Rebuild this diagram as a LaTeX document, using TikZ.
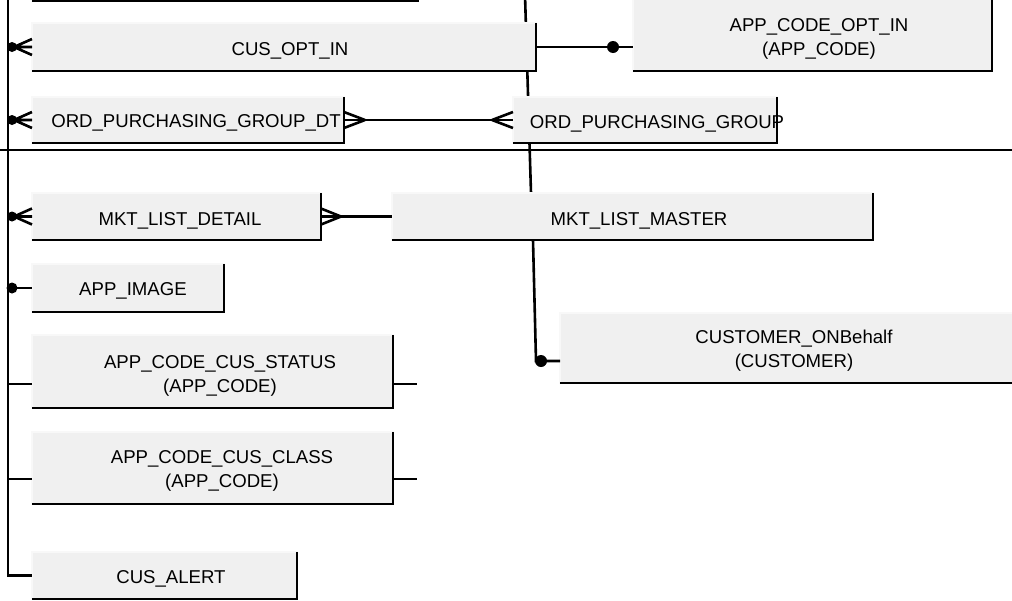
\documentclass[tikz,border=0pt]{standalone}
\usepackage{fontspec}
\setmainfont{Liberation Sans}
\usetikzlibrary{backgrounds}

\definecolor{boxfill}{RGB}{240,240,240}
\definecolor{boxline}{RGB}{248,248,248}

\tikzset{
  entity/.style={rectangle, fill=boxfill, draw=boxline, line width=1.5pt, inner sep=0pt, outer sep=0pt},
  etext/.style={anchor=base, align=center, inner sep=0pt, font=\fontsize{18.6}{24}\selectfont},
  rim/.style={line width=2.8pt, black},
  link/.style={line width=2.6pt, black},
}

\begin{document}
\begin{tikzpicture}[x=1pt, y=-1pt]

\useasboundingbox (0,0) rectangle (1012,600);

\coordinate (spinetop) at (8,-5);
\coordinate (ruleleft) at (0,150);
\coordinate (ruleright) at (1012,150);
\coordinate (mastertop) at (525,-5);

% entities
\node[entity, minimum width=386, minimum height=41] (oldtop) at (225,-19.5) {};
\node[entity, minimum width=504, minimum height=48] (cusoptin) at (284,47) {};
\node[entity, minimum width=312, minimum height=46] (ordpgdt) at (188,120) {};
\node[entity, minimum width=359, minimum height=73] (optincode) at (812.5,34.5) {};
\node[entity, minimum width=264, minimum height=46] (ordpg) at (645,120) {};
\node[entity, minimum width=289, minimum height=47] (mktdetail) at (176.5,216.5) {};
\node[entity, minimum width=481, minimum height=47] (mktmaster) at (632.5,216.5) {};
\node[entity, minimum width=192, minimum height=48] (appimage) at (128,288) {};
\node[entity, minimum width=361, minimum height=73] (cusstatus) at (212.5,371.5) {};
\node[entity, minimum width=361, minimum height=72] (cusclass) at (212.5,468) {};
\node[entity, minimum width=265, minimum height=47] (cusalert) at (164.5,575.5) {};
\node[entity, minimum width=468, minimum height=70] (customer) at (794,348) {};

\foreach \n in {oldtop,cusoptin,ordpgdt,optincode,ordpg,mktdetail,mktmaster,appimage,cusstatus,cusclass,cusalert,customer}
  \draw[rim] (\n.north east) -- (\n.south east) -- (\n.south west);

% entity names (base = last line)
\node[etext] (cusoptin-t) at (290,55) {CUS\_OPT\_IN};
\node[etext] (ordpgdt-t) at (196,127.7) {ORD\_PURCHASING\_GROUP\_DT};
\node[etext] (optincode-t) at (819,55.5) {APP\_CODE\_OPT\_IN\\(APP\_CODE)};
\node[etext] (ordpg-t) at (657,128) {ORD\_PURCHASING\_GROUP};
\node[etext] (mktdetail-t) at (180,225) {MKT\_LIST\_DETAIL};
\node[etext] (mktmaster-t) at (639,225) {MKT\_LIST\_MASTER};
\node[etext] (appimage-t) at (133,295.7) {APP\_IMAGE};
\node[etext] (cusstatus-t) at (220,392) {APP\_CODE\_CUS\_STATUS\\(APP\_CODE)};
\node[etext] (cusclass-t) at (222,487) {APP\_CODE\_CUS\_CLASS\\(APP\_CODE)};
\node[etext] (cusalert-t) at (171,583) {CUS\_ALERT};
\node[etext] (customer-t) at (794,367) {CUSTOMER\_ONBehalf\\(CUSTOMER)};

% relationships
\begin{scope}[on background layer]
\draw[link] (mastertop) -- ([xshift=-101.5]mktmaster.north);
\end{scope}

\draw[link] (spinetop) |- (cusalert.west);
\draw[link] (ruleleft) -- (ruleright);

\foreach \n in {cusoptin,ordpgdt,mktdetail} {
  \draw[link] ([xshift=-18]\n.west) -- ([yshift=8]\n.west)
              ([xshift=-18]\n.west) -- (\n.west)
              ([xshift=-18]\n.west) -- ([yshift=-8]\n.west);
  \fill ([xshift=-20]\n.west) circle (5);
}

\draw[link] ([xshift=-20]appimage.west) -- (appimage.west);
\fill ([xshift=-20]appimage.west) circle (5.5);

\draw[link] ([yshift=-12.5]cusstatus.west) -- ++(-24,0);
\draw[link] ([yshift=-12.5]cusstatus.east) -- ++(24,0);
\draw[link] ([yshift=-11]cusclass.west) -- ++(-24,0);
\draw[link] ([yshift=-11]cusclass.east) -- ++(24,0);

\coordinate (optinend) at (optincode.west |- cusoptin.east);
\draw[link] (cusoptin.east) -- (optinend);
\fill ([xshift=-20]optinend) circle (6);

\draw[link] (ordpgdt.east) -- (ordpg.west);
\draw[link] ([xshift=21]ordpgdt.east) -- ([yshift=8]ordpgdt.east)
            ([xshift=21]ordpgdt.east) -- ([yshift=-8]ordpgdt.east);
\draw[link] ([xshift=-21]ordpg.west) -- ([yshift=8]ordpg.west)
            ([xshift=-21]ordpg.west) -- ([yshift=-8]ordpg.west);

\draw[link] (mktdetail.east) -- (mktmaster.west);
\draw[link] ([xshift=20]mktdetail.east) -- ([yshift=8]mktdetail.east)
            ([xshift=20]mktdetail.east) -- ([yshift=-8]mktdetail.east);

\coordinate (custin) at ([yshift=-13]customer.west);
\draw[link] ([xshift=-99.5]mktmaster.south) -- ([xshift=-24]custin) -- (custin);
\fill ([xshift=-19]custin) circle (6);

\end{tikzpicture}
\end{document}
